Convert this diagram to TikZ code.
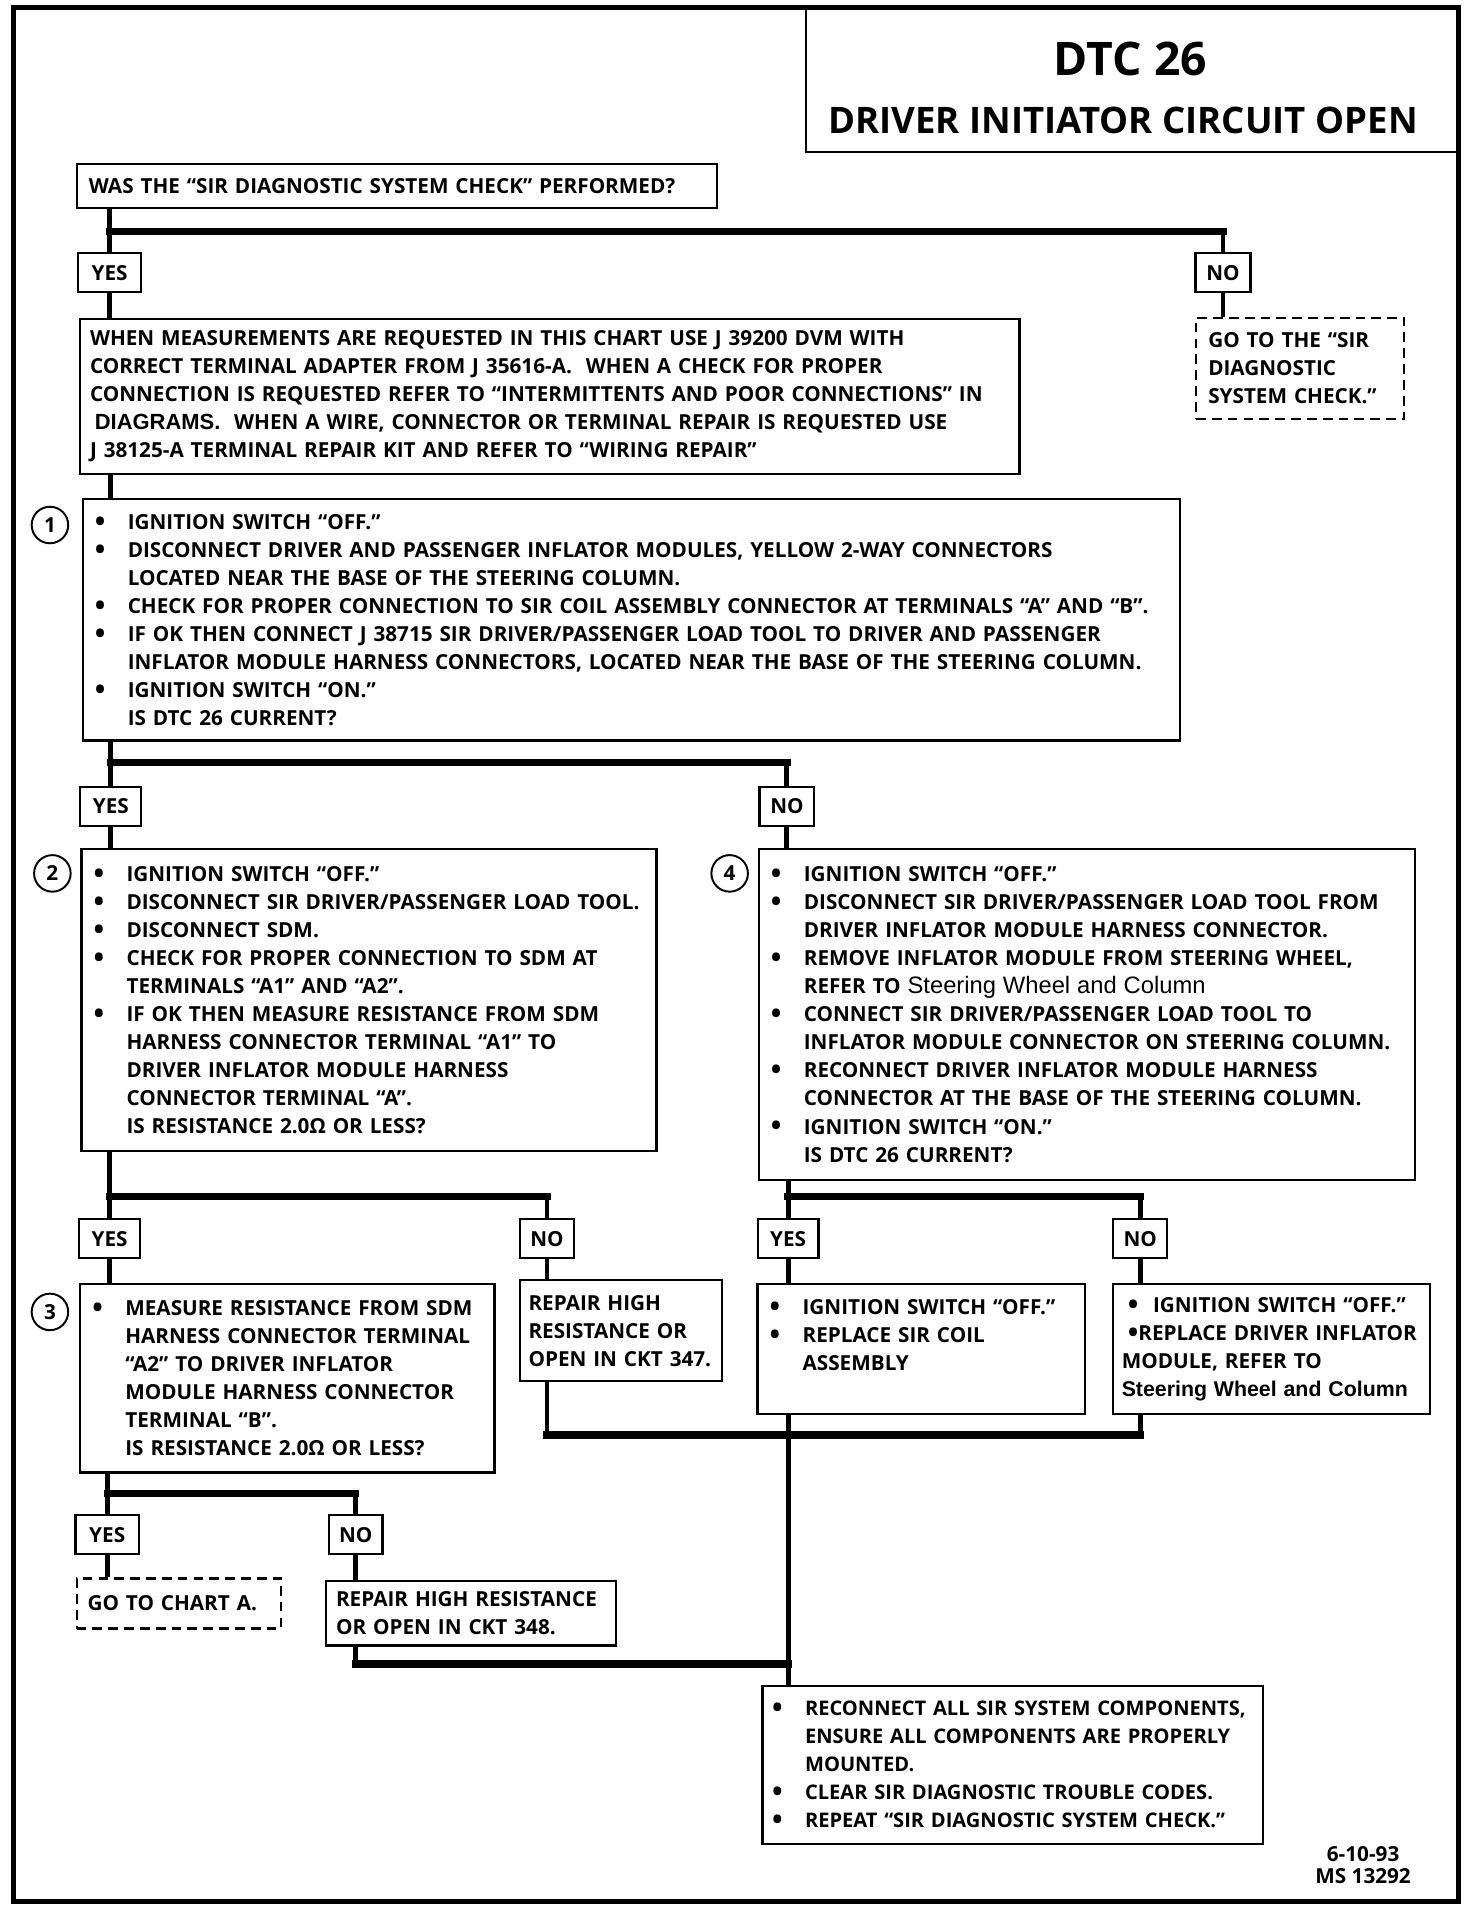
\documentclass[tikz,border=0pt]{standalone}
\usepackage{fontspec}
\setmainfont{Open Sans}
\newfontfamily\helvfont{Liberation Sans}
\newcommand\bul{\makebox[27pt][l]{\raisebox{-1.5pt}{\fontsize{23}{23}\selectfont•}}}
\newcommand\ind{\hspace*{27pt}}
\begin{document}
\begin{tikzpicture}[x=1pt,y=-1pt,
    every node/.style={font=\fontsize{17}{23}\selectfont\bfseries},
    box/.style={draw,line width=1.8pt,anchor=north west,inner xsep=10pt,inner ysep=0pt,align=left},
    dbox/.style={box,dash pattern=on 8pt off 5pt},
    ans/.style={draw,line width=1.8pt,minimum height=32pt,inner sep=0pt},
    num/.style={draw,circle,line width=1.6pt,minimum size=30pt,inner sep=0pt},
    flow/.style={line width=4pt},
    bar/.style={line width=6pt,line cap=rect}]
    \useasboundingbox (0,0) rectangle (1208,1568);
    \draw[line width=4pt] (11,6) rectangle (1197,1561);
    \node[box,minimum width=536pt,minimum height=118pt,inner sep=0pt] (title) at (661,6) {};
    \node[font=\fontsize{38}{40}\selectfont\bfseries] (dtc) at (928,48) {DTC 26};
    \node[font=\fontsize{30}{32}\selectfont\bfseries] (subt) at (922,99) {DRIVER INITIATOR CIRCUIT OPEN};
    \node[box,minimum width=526pt,minimum height=36pt,text width=506pt] (q) at (62,134)
        {WAS THE “SIR DIAGNOSTIC SYSTEM CHECK” PERFORMED?};
    \node[ans,minimum width=52pt] (yes1) at (90,224) {YES};
    \node[ans,minimum width=45pt] (no1) at (1004,224) {NO};
    \node[dbox,minimum width=171pt,minimum height=83pt,text width=151pt] (go1) at (981,260)
        {GO TO THE “SIR\\ DIAGNOSTIC\\ SYSTEM CHECK.”};
    \node[box,minimum width=771pt,minimum height=127pt,text width=755pt,inner xsep=8pt] (info) at (65,261)
        {WHEN MEASUREMENTS ARE REQUESTED IN THIS CHART USE J 39200 DVM WITH\\
         CORRECT TERMINAL ADAPTER FROM J 35616-A.\ \ WHEN A CHECK FOR PROPER\\
         CONNECTION IS REQUESTED REFER TO “INTERMITTENTS AND POOR CONNECTIONS” IN\\
         \hspace*{4pt}{\helvfont\fontsize{18}{23}\selectfont DIAGRAMS.}\ \ WHEN A WIRE, CONNECTOR OR TERMINAL REPAIR IS REQUESTED USE\\
         J 38125-A TERMINAL REPAIR KIT AND REFER TO “WIRING REPAIR”};
    \node[box,minimum width=901pt,minimum height=198pt,text width=881pt] (b1) at (67,409)
        {\bul IGNITION SWITCH “OFF.”\\
         \bul DISCONNECT DRIVER AND PASSENGER INFLATOR MODULES, YELLOW 2-WAY CONNECTORS\\
         \ind LOCATED NEAR THE BASE OF THE STEERING COLUMN.\\
         \bul CHECK FOR PROPER CONNECTION TO SIR COIL ASSEMBLY CONNECTOR AT TERMINALS “A” AND “B”.\\
         \bul IF OK THEN CONNECT J 38715 SIR DRIVER/PASSENGER LOAD TOOL TO DRIVER AND PASSENGER\\
         \ind INFLATOR MODULE HARNESS CONNECTORS, LOCATED NEAR THE BASE OF THE STEERING COLUMN.\\
         \bul IGNITION SWITCH “ON.”\\
         \ind IS DTC 26 CURRENT?};
    \node[num] (c1) at (41,431) {1};
    \node[ans,minimum width=50pt] (yes2) at (91,662) {YES};
    \node[ans,minimum width=45pt] (no2) at (646,662) {NO};
    \node[box,minimum width=472pt,minimum height=248pt,text width=452pt] (b2) at (66,696)
        {\bul IGNITION SWITCH “OFF.”\\
         \bul DISCONNECT SIR DRIVER/PASSENGER LOAD TOOL.\\
         \bul DISCONNECT SDM.\\
         \bul CHECK FOR PROPER CONNECTION TO SDM AT\\
         \ind TERMINALS “A1” AND “A2”.\\
         \bul IF OK THEN MEASURE RESISTANCE FROM SDM\\
         \ind HARNESS CONNECTOR TERMINAL “A1” TO\\
         \ind DRIVER INFLATOR MODULE HARNESS\\
         \ind CONNECTOR TERMINAL “A”.\\
         \ind IS RESISTANCE 2.0Ω OR LESS?};
    \node[num] (c2) at (43,717) {2};
    \node[box,minimum width=539pt,minimum height=272pt,text width=519pt] (b4) at (622,696)
        {\bul IGNITION SWITCH “OFF.”\\
         \bul DISCONNECT SIR DRIVER/PASSENGER LOAD TOOL FROM\\
         \ind DRIVER INFLATOR MODULE HARNESS CONNECTOR.\\
         \bul REMOVE INFLATOR MODULE FROM STEERING WHEEL,\\
         \ind REFER TO {\helvfont\mdseries\fontsize{19.5}{23}\selectfont Steering Wheel and Column}\\
         \bul CONNECT SIR DRIVER/PASSENGER LOAD TOOL TO\\
         \ind INFLATOR MODULE CONNECTOR ON STEERING COLUMN.\\
         \bul RECONNECT DRIVER INFLATOR MODULE HARNESS\\
         \ind CONNECTOR AT THE BASE OF THE STEERING COLUMN.\\
         \bul IGNITION SWITCH “ON.”\\
         \ind IS DTC 26 CURRENT?};
    \node[num] (c4) at (599,717) {4};
    \node[ans,minimum width=50pt] (yes3) at (90,1017) {YES};
    \node[ans,minimum width=44pt] (no3) at (449,1017) {NO};
    \node[ans,minimum width=50pt] (yes4) at (647,1017) {YES};
    \node[ans,minimum width=44pt] (no4) at (936,1017) {NO};
    \node[box,minimum width=340pt,minimum height=155pt,text width=320pt] (b3) at (65,1053)
        {\bul MEASURE RESISTANCE FROM SDM\\
         \ind HARNESS CONNECTOR TERMINAL\\
         \ind “A2” TO DRIVER INFLATOR\\
         \ind MODULE HARNESS CONNECTOR\\
         \ind TERMINAL “B”.\\
         \ind IS RESISTANCE 2.0Ω OR LESS?};
    \node[num] (c3) at (41,1077) {3};
    \node[box,minimum width=166pt,minimum height=83pt,text width=152pt,inner xsep=7pt] (r347) at (426,1050)
        {REPAIR HIGH\\ RESISTANCE OR\\ OPEN IN CKT 347.};
    \node[box,minimum width=269pt,minimum height=107pt,text width=249pt] (coil) at (621,1053)
        {\bul IGNITION SWITCH “OFF.”\\
         \bul REPLACE SIR COIL\\
         \ind ASSEMBLY\\ \mbox{}};
    \node[box,minimum width=260pt,minimum height=107pt,text width=246pt,inner xsep=7pt] (repl) at (913,1053)
        {\hspace*{5pt}\raisebox{-1.5pt}{\fontsize{23}{23}\selectfont•}\hspace{12pt}IGNITION SWITCH “OFF.”\\
         \hspace*{5pt}\raisebox{-1.5pt}{\fontsize{23}{23}\selectfont•}REPLACE DRIVER INFLATOR\\
         MODULE, REFER TO\\
         {\helvfont\fontsize{17.5}{23}\selectfont Steering Wheel and Column}};
    \node[ans,minimum width=52pt] (yes5) at (88,1260) {YES};
    \node[ans,minimum width=44pt] (no5) at (292,1260) {NO};
    \node[dbox,minimum width=168pt,minimum height=41pt,text width=150pt,inner xsep=9pt] (goA) at (62,1295)
        {GO TO CHART A.};
    \node[box,minimum width=238pt,minimum height=53pt,text width=222pt,inner xsep=8pt] (r348) at (267,1297)
        {REPAIR HIGH RESISTANCE\\ OR OPEN IN CKT 348.};
    \node[box,minimum width=411pt,minimum height=130pt,text width=395pt,inner xsep=8pt,
          font=\fontsize{16.5}{23}\selectfont\bfseries] (final) at (625,1383)
        {\mbox{\bul RECONNECT ALL SIR SYSTEM COMPONENTS,}\\
         \ind ENSURE ALL COMPONENTS ARE PROPERLY\\
         \ind MOUNTED.\\
         \bul CLEAR SIR DIAGNOSTIC TROUBLE CODES.\\
         \bul REPEAT “SIR DIAGNOSTIC SYSTEM CHECK.”};
    \node[align=center,font=\fontsize{17}{18}\selectfont\bfseries] (date) at (1119,1531) {6-10-93\\ MS 13292};
    \coordinate (s1) at (90,190);
    \coordinate (s2) at (91,626);
    \coordinate (s3) at (90,982);
    \coordinate (s4) at (647,982);
    \coordinate (s5) at (88,1226);
    \coordinate (m1) at (449,1178);
    \coordinate (m2) at (292,1366);
    \draw[flow] (q.south -| yes1) -- (yes1.north);
    \draw[bar] (s1) -- (s1 -| no1);
    \draw[flow] (s1 -| no1) -- (no1.north);
    \draw[flow] (yes1.south) -- (info.north -| yes1);
    \draw[flow] (no1.south) -- (go1.north -| no1);
    \draw[flow] (info.south -| yes2) -- (b1.north -| yes2);
    \draw[flow] (b1.south -| yes2) -- (yes2.north);
    \draw[bar] (s2) -- (s2 -| no2);
    \draw[flow] (s2 -| no2) -- (no2.north);
    \draw[flow] (yes2.south) -- (b2.north -| yes2);
    \draw[flow] (no2.south) -- (b4.north -| no2);
    \draw[flow] (b2.south -| yes3) -- (yes3.north);
    \draw[bar] (s3) -- (s3 -| no3);
    \draw[flow] (s3 -| no3) -- (no3.north);
    \draw[flow] (b4.south -| yes4) -- (yes4.north);
    \draw[bar] (s4) -- (s4 -| no4);
    \draw[flow] (s4 -| no4) -- (no4.north);
    \draw[flow] (yes3.south) -- (b3.north -| yes3);
    \draw[flow] (no3.south) -- (r347.north -| no3);
    \draw[flow] (yes4.south) -- (coil.north -| yes4);
    \draw[flow] (no4.south) -- (repl.north -| no4);
    \draw[flow] (r347.south -| no3) -- (m1);
    \draw[bar] (m1) -- (m1 -| no4);
    \draw[flow] (repl.south -| no4) -- (m1 -| no4);
    \draw[flow] (coil.south -| yes4) -- (final.north -| yes4);
    \draw[flow] (b3.south -| yes5) -- (yes5.north);
    \draw[bar] (s5) -- (s5 -| no5);
    \draw[flow] (s5 -| no5) -- (no5.north);
    \draw[flow] (yes5.south) -- (goA.north -| yes5);
    \draw[flow] (no5.south) -- (r348.north -| no5);
    \draw[flow] (r348.south -| no5) -- (m2);
    \draw[bar] (m2) -- (m2 -| yes4);
\end{tikzpicture}
\end{document}
